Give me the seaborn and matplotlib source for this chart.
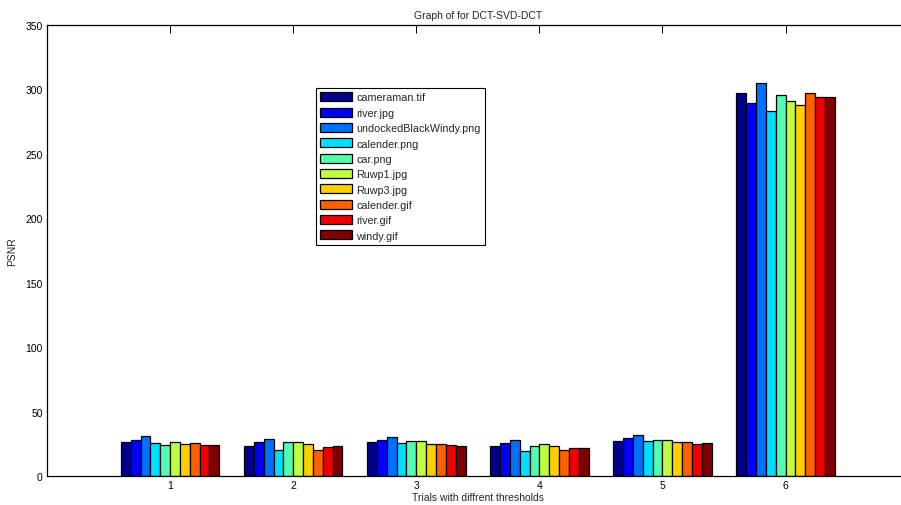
import pandas as pd
import seaborn as sns
import matplotlib.pyplot as plt

# Trials along the x axis and the images that were tested.
trials = ["1", "2", "3", "4", "5", "6"]
images = ["cameraman.tif", "river.jpg", "undockedBlackWindy.png", "calender.png", "car.png",
          "Ruwp1.jpg", "Ruwp3.jpg", "calender.gif", "river.gif", "windy.gif"]

# PSNR per image, one value per trial.
cameraman_tif = [26.3, 23.5, 26.3, 23.0, 26.9, 297.4]
river_jpg = [28.1, 26.3, 28.1, 25.6, 29.4, 288.9]
undocked_png = [30.7, 28.7, 30.2, 27.9, 31.5, 304.6]
calender_png = [25.6, 20.4, 25.6, 19.6, 26.9, 283.0]
car_png = [24.2, 26.3, 26.9, 23.0, 27.6, 295.6]
ruwp1_jpg = [26.3, 26.3, 26.9, 24.8, 27.6, 290.7]
ruwp3_jpg = [24.8, 24.8, 24.8, 23.2, 26.3, 287.6]
calender_gif = [25.6, 20.4, 24.8, 20.4, 26.3, 297.4]
river_gif = [24.0, 22.2, 24.0, 21.7, 24.8, 293.6]
windy_gif = [24.0, 23.5, 23.2, 21.7, 25.8, 293.6]

series = [cameraman_tif, river_jpg, undocked_png, calender_png, car_png,
          ruwp1_jpg, ruwp3_jpg, calender_gif, river_gif, windy_gif]

# Colours taken from the jet colormap the way the original bar chart picked them.
bar_colours = [(0, 0, 0.5625), (0, 0, 1), (0, 0.4375, 1), (0, 0.875, 1), (0.3125, 1, 0.6875),
               (0.75, 1, 0.25), (1, 0.8125, 0), (1, 0.375, 0), (0.9375, 0, 0), (0.5, 0, 0)]

# Long format table for seaborn.
rows = []
for name, values in zip(images, series):
    for trial, value in zip(trials, values):
        rows.append({"trial": trial, "image": name, "psnr": value})
psnr_df = pd.DataFrame(rows)

sns.set_style("white")
plt.rcParams["font.family"] = ["Liberation Sans", "DejaVu Sans"]

fig = plt.figure(figsize=(9.01, 5.06), dpi=100)
ax = fig.add_axes([47 / 901, 1 - 477 / 506, 861.7 / 901, 451.3 / 506])

sns.barplot(data=psnr_df, x="trial", y="psnr", hue="image", order=trials, hue_order=images,
            palette=bar_colours, saturation=1, width=0.8, edgecolor="black",
            linewidth=0.9, ax=ax)

ax.set_xlim(-1, 6)
ax.set_ylim(0, 350)
ax.set_yticks(range(0, 351, 50))

ax.set_title("Graph of for DCT-SVD-DCT", fontsize=7.5, pad=5)
ax.set_xlabel("Trials with diffrent thresholds", fontsize=7.5, labelpad=1)
ax.set_ylabel("PSNR", fontsize=7.5, labelpad=6)

# MATLAB style ticks: inward, on every side.
ax.tick_params(direction="in", top=True, right=True, length=5.5, width=0.7,
               labelsize=7.5, colors="black", pad=3)
for spine in ax.spines.values():
    spine.set_visible(True)
    spine.set_color("black")
    spine.set_linewidth(0.9)

leg = ax.legend(loc="upper left", bbox_to_anchor=(316 / 901, 1 - 89 / 506),
                bbox_transform=fig.transFigure, frameon=True, fancybox=False,
                edgecolor="black", framealpha=1, fontsize=7.75, handlelength=2.9,
                handleheight=0.9, labelspacing=0.48, borderpad=0.4,
                handletextpad=0.45, borderaxespad=0, title=None)
leg.get_frame().set_linewidth(0.8)

fig.savefig("out.png", dpi=100)
